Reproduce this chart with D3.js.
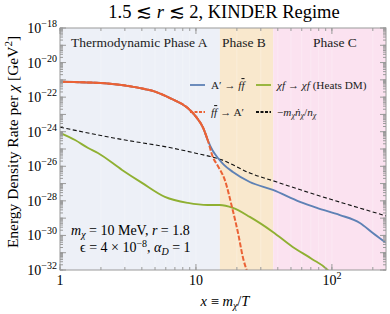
<!DOCTYPE html>
<html>
<head>
<meta charset="utf-8">
<script src="https://cdn.jsdelivr.net/npm/d3@7"></script>
<style>
body { margin: 0; background: #fff; }
svg { font-family: "Liberation Serif", "Times New Roman", serif; }
</style>
</head>
<body>
<script>
// x = m_chi / T values, y stored as log10 of the rate [GeV^2]
var xAtoFF = [1, 2.14, 3.74, 5, 6.5, 8.7, 10, 11.3, 12.2, 13.3, 14.5, 16, 18.7, 24.9, 36.8, 58.2, 77.6, 114.5, 160.7, 200, 250];
var logAtoFF = [-21.11, -21.2, -21.45, -21.68, -22.07, -22.63, -23.13, -23.78, -24.48, -25.1, -25.52, -25.9, -26.33, -26.91, -27.37, -28.06, -28.41, -28.82, -29.28, -29.86, -30.43];

var xFFtoA = [1, 2.14, 3.74, 5, 6.5, 8.7, 10, 11.3, 12.2, 13.3, 14.5, 16.3, 18.4, 20.4, 22.2, 24];
var logFFtoA = [-21.11, -21.2, -21.45, -21.68, -22.07, -22.63, -23.13, -23.78, -24.48, -25.46, -25.98, -26.79, -28.35, -29.86, -31.3, -32.17];

var xHeat = [1, 1.29, 1.61, 1.9, 2.86, 4.01, 5.91, 8.73, 12.2, 15, 18.7, 24.9, 36.8, 51.5, 71.2, 93, 100];
var logHeat = [-24.07, -24.48, -24.94, -25.23, -26.21, -26.96, -27.77, -28.12, -28.24, -28.24, -28.41, -28.93, -29.8, -30.67, -31.36, -32.0, -32.3];

var xCool = [1, 2.86, 6.66, 9.8, 15.5, 24.9, 39.4, 68.9, 120, 250];
var logCool = [-23.74, -24.45, -24.94, -25.23, -25.63, -26.39, -26.91, -27.54, -28.12, -28.87];

// phase boundaries in x
var phaseNames = ["Thermodynamic Phase A", "Phase B", "Phase C"];
var phaseEdges = [1, 15, 37, 250];
var phaseColors = ["#edf0f7", "#f9e8cd", "#fbe2f0"];

var xTickLabels = ["1", "10", "10<tspan dy='-6' font-size='10'>2</tspan>"];
var yLabelExps = [-18, -20, -22, -24, -26, -28, -30, -32];

var width = 390, height = 314;
var pLeft = 60, pRight = 386, pTop = 28, pBottom = 270;
var overlapEnd = 12.2; // A'->ff and ff->A' coincide up to here

var svg = d3.select("body").append("svg")
    .attr("width", width)
    .attr("height", height);

var x = d3.scaleLog().domain([1, 250]).range([pLeft, pRight]);
var y = d3.scaleLog().domain([1e-32, 1e-18]).range([pBottom, pTop]);

svg.append("clipPath").attr("id", "plot")
    .append("rect")
    .attr("x", pLeft).attr("y", pTop)
    .attr("width", pRight - pLeft).attr("height", pBottom - pTop);

// phase bands
svg.selectAll(".band")
    .data(phaseColors)
    .enter()
    .append("rect")
    .attr("class", "band")
    .attr("x", function(d, i){ return x(phaseEdges[i]); })
    .attr("y", pTop)
    .attr("width", function(d, i){ return x(phaseEdges[i + 1]) - x(phaseEdges[i]); })
    .attr("height", pBottom - pTop)
    .attr("fill", function(d){ return d; });

// minor tick positions
var xMinor = [];
[1, 10, 100].forEach(function(p){
    for (var k = 1; k < 10; k++) if (p * k <= 250) xMinor.push(p * k);
});
var yMinor = [];
for (var e = -32; e < -18; e++) {
    for (var k = 1; k < 10; k++) yMinor.push(k * Math.pow(10, e));
}
yMinor.push(1e-18);

// faint grid lines
svg.append("g").selectAll("line")
    .data(xMinor)
    .enter().append("line")
    .attr("x1", function(d){ return x(d); }).attr("x2", function(d){ return x(d); })
    .attr("y1", pTop).attr("y2", pBottom)
    .attr("stroke", "#ffffff").attr("stroke-opacity", 0.45).attr("stroke-width", 0.6);

// curves
var line = d3.line()
    .x(function(d){ return x(d[0]); })
    .y(function(d){ return y(Math.pow(10, d[1])); })
    .curve(d3.curveMonotoneX);

var plot = svg.append("g").attr("clip-path", "url(#plot)");

var ffPoints = d3.zip(xFFtoA, logFFtoA);
var series = [
    {pts: d3.zip(xCool, logCool), color: "#111", width: 1.1, dash: "4,2.5"},
    {pts: d3.zip(xHeat, logHeat), color: "#8fb032", width: 1.9, dash: null},
    {pts: d3.zip(xAtoFF, logAtoFF), color: "#5e81b5", width: 1.9, dash: null},
    {pts: ffPoints.filter(function(p){ return p[0] <= overlapEnd; }), color: "#eb6235", width: 2, dash: null},
    {pts: ffPoints, color: "#eb6235", width: 2, dash: "5,1.8"}
];

plot.selectAll(".curve")
    .data(series)
    .enter()
    .append("path")
    .attr("class", "curve")
    .attr("d", function(s){ return line(s.pts); })
    .attr("fill", "none")
    .attr("stroke", function(s){ return s.color; })
    .attr("stroke-width", function(s){ return s.width; })
    .attr("stroke-dasharray", function(s){ return s.dash; });

// frame and ticks
var frameColor = "#9a9a9a";
svg.append("rect")
    .attr("x", pLeft).attr("y", pTop)
    .attr("width", pRight - pLeft).attr("height", pBottom - pTop)
    .attr("fill", "none").attr("stroke", frameColor).attr("stroke-width", 1);

var xMajor = [1, 10, 100];
var yMajor = [];
for (var e2 = -32; e2 <= -18; e2++) yMajor.push(Math.pow(10, e2));

function ticksX(vals, len){
    var g = svg.append("g");
    vals.forEach(function(v){
        g.append("line").attr("x1", x(v)).attr("x2", x(v)).attr("y1", pBottom).attr("y2", pBottom - len)
            .attr("stroke", frameColor);
        g.append("line").attr("x1", x(v)).attr("x2", x(v)).attr("y1", pTop).attr("y2", pTop + len)
            .attr("stroke", frameColor);
    });
}
function ticksY(vals, len){
    var g = svg.append("g");
    vals.forEach(function(v){
        g.append("line").attr("y1", y(v)).attr("y2", y(v)).attr("x1", pLeft).attr("x2", pLeft + len)
            .attr("stroke", frameColor);
        g.append("line").attr("y1", y(v)).attr("y2", y(v)).attr("x1", pRight).attr("x2", pRight - len)
            .attr("stroke", frameColor);
    });
}
ticksX(xMinor, 3);
ticksX(xMajor, 6);
ticksY(yMinor, 3);
ticksY(yMajor, 6);

// tick labels
svg.selectAll(".xlab")
    .data(xMajor)
    .enter().append("text")
    .attr("class", "xlab")
    .attr("x", function(d){ return x(d); })
    .attr("y", 285)
    .attr("text-anchor", "middle")
    .attr("font-size", 14)
    .html(function(d, i){ return xTickLabels[i]; });

svg.selectAll(".ylab")
    .data(yLabelExps)
    .enter().append("text")
    .attr("class", "ylab")
    .attr("x", 57)
    .attr("y", function(d){ return y(Math.pow(10, d)) + 5; })
    .attr("text-anchor", "end")
    .attr("font-size", 14)
    .html(function(d){ return "10<tspan dy='-6' font-size='10'>\u2212" + (-d) + "</tspan>"; });

// titles
svg.append("text")
    .attr("x", 224).attr("y", 18)
    .attr("text-anchor", "middle")
    .attr("font-size", 18.5)
    .html("1.5 \u2272 <tspan font-style='italic'>r</tspan> \u2272 2, KINDER Regime");

svg.append("text")
    .attr("x", 225).attr("y", 306)
    .attr("text-anchor", "middle")
    .attr("font-size", 14.5)
    .html("<tspan font-style='italic'>x</tspan> \u2261 <tspan font-style='italic'>m</tspan><tspan dy='3' font-size='10' font-style='italic'>\u03c7</tspan><tspan dy='-3'>/</tspan><tspan font-style='italic'>T</tspan>");

svg.append("text")
    .attr("transform", "translate(18,142) rotate(-90)")
    .attr("text-anchor", "middle")
    .attr("font-size", 15.5)
    .html("Energy Density Rate per <tspan font-style='italic'>\u03c7</tspan> [GeV<tspan dy='-6' font-size='11'>2</tspan><tspan dy='6'>]</tspan>");

// phase labels
var phaseLabelX = [71, 222, 313];
svg.selectAll(".phase")
    .data(phaseNames)
    .enter().append("text")
    .attr("class", "phase")
    .attr("x", function(d, i){ return phaseLabelX[i]; })
    .attr("y", 47)
    .attr("font-size", 13.5)
    .attr("fill", "#222")
    .text(function(d){ return d; });

// parameter annotation
svg.append("text")
    .attr("x", 71).attr("y", 235)
    .attr("font-size", 14)
    .html("<tspan font-style='italic'>m</tspan><tspan dy='3' font-size='10' font-style='italic'>\u03c7</tspan><tspan dy='-3'> = 10 MeV, </tspan><tspan font-style='italic'>r</tspan> = 1.8");
svg.append("text")
    .attr("x", 80).attr("y", 252)
    .attr("font-size", 14)
    .html("\u03f5 = 4 \u00d7 10<tspan dy='-5' font-size='10'>\u22128</tspan><tspan dy='5'>, </tspan><tspan font-style='italic'>\u03b1</tspan><tspan dy='3' font-size='10' font-style='italic'>D</tspan><tspan dy='-3'> = 1</tspan>");

// legend
var legendItems = [
    {color: "#5e81b5", dash: null, lx: 190, ly: 85, label: "A\u2032 \u2192 <tspan font-style='italic'>f</tspan><tspan font-style='italic' text-decoration='overline'>f</tspan>"},
    {color: "#8fb032", dash: null, lx: 256, ly: 85, label: "<tspan font-style='italic'>\u03c7f</tspan> \u2192 <tspan font-style='italic'>\u03c7f</tspan> (Heats DM)"},
    {color: "#eb6235", dash: "3,1.5", lx: 190, ly: 112, label: "<tspan font-style='italic'>f</tspan><tspan font-style='italic' text-decoration='overline'>f</tspan> \u2192 A\u2032"},
    {color: "#111", dash: "3,1.5", lx: 256, ly: 112, label: "\u2212<tspan font-style='italic'>m</tspan><tspan dy='2' font-size='8' font-style='italic'>\u03c7</tspan><tspan dy='-2' font-style='italic'>\u1e45</tspan><tspan dy='2' font-size='8' font-style='italic'>\u03c7</tspan><tspan dy='-2'>/</tspan><tspan font-style='italic'>n</tspan><tspan dy='2' font-size='8' font-style='italic'>\u03c7</tspan>"}
];

var legend = svg.selectAll(".leg")
    .data(legendItems)
    .enter().append("g")
    .attr("class", "leg");

legend.append("line")
    .attr("x1", function(d){ return d.lx; })
    .attr("x2", function(d){ return d.lx + 15; })
    .attr("y1", function(d){ return d.ly; })
    .attr("y2", function(d){ return d.ly; })
    .attr("stroke", function(d){ return d.color; })
    .attr("stroke-width", 1.8)
    .attr("stroke-dasharray", function(d){ return d.dash; });

legend.append("text")
    .attr("x", function(d){ return d.lx + 21; })
    .attr("y", function(d){ return d.ly + 4; })
    .attr("font-size", 11.2)
    .attr("fill", "#222")
    .html(function(d){ return d.label; });
</script>
</body>
</html>
